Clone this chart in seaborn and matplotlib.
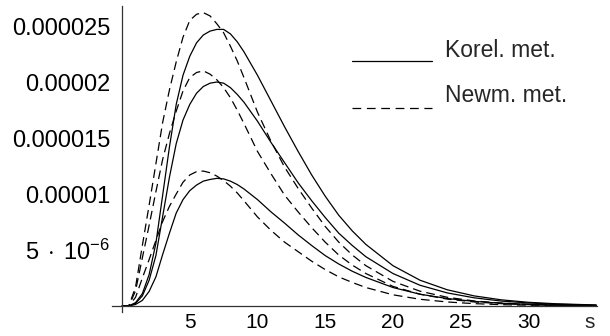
import matplotlib
matplotlib.use("Agg")
import matplotlib.pyplot as plt
import numpy as np
import pandas as pd
import seaborn as sns
from matplotlib.lines import Line2D
from matplotlib.ticker import FixedLocator, FixedFormatter

# ---- data (values in units of 1e-6) ----
s = [0, 0.5, 1, 1.5, 2, 2.5, 3, 3.5, 4, 4.5, 5, 5.5, 6, 6.5, 7, 7.5, 8, 8.5, 9,
     10, 11, 12, 13, 14, 15, 16, 17, 18, 20, 22, 24, 26, 28, 30, 32, 35]

korel_1 = [0, 0, 0.3, 1.1, 2.8, 5.6, 9.9, 14.2, 18.0, 20.6, 22.3, 23.5, 24.2, 24.55, 24.7, 24.7, 24.3, 23.6, 22.7,
           20.6, 18.3, 16.0, 13.8, 11.7, 9.8, 8.1, 6.7, 5.5, 3.6, 2.3, 1.45, 0.9, 0.55, 0.33, 0.2, 0.09]
korel_2 = [0, 0, 0.24, 0.9, 2.3, 4.5, 8.0, 11.5, 14.5, 16.6, 18.0, 19.0, 19.6, 19.9, 20.0, 19.9, 19.5, 18.9, 18.2,
           16.5, 14.6, 12.8, 11.0, 9.4, 7.9, 6.5, 5.4, 4.4, 2.9, 1.85, 1.17, 0.73, 0.44, 0.27, 0.16, 0.07]
korel_3 = [0, 0, 0.14, 0.5, 1.3, 2.6, 4.6, 6.5, 8.3, 9.5, 10.3, 10.8, 11.15, 11.3, 11.4, 11.35, 11.15, 10.85, 10.45,
           9.5, 8.4, 7.4, 6.35, 5.4, 4.5, 3.75, 3.1, 2.55, 1.65, 1.05, 0.67, 0.41, 0.25, 0.15, 0.09, 0.04]
newm_1 = [0, 0, 1.7, 5.4, 9.0, 12.7, 16.4, 19.3, 21.8, 24.0, 25.5, 26.05, 26.2, 25.9, 25.2, 24.4, 23.2, 21.9, 20.4,
          17.3, 14.7, 12.4, 10.5, 8.75, 7.1, 5.7, 4.55, 3.6, 2.2, 1.32, 0.78, 0.45, 0.26, 0.15, 0.085, 0.035]
newm_2 = [0, 0, 1.36, 4.3, 7.2, 10.2, 13.1, 15.4, 17.4, 19.2, 20.4, 20.85, 21.0, 20.7, 20.2, 19.5, 18.6, 17.5, 16.3,
          13.8, 11.8, 9.9, 8.4, 7.0, 5.7, 4.55, 3.65, 2.9, 1.75, 1.05, 0.62, 0.36, 0.21, 0.12, 0.07, 0.03]
newm_3 = [0, 0, 0.78, 2.5, 4.15, 5.85, 7.55, 8.9, 10.0, 11.05, 11.7, 12.0, 12.05, 11.9, 11.6, 11.2, 10.7, 10.1, 9.4,
          7.95, 6.75, 5.7, 4.85, 4.0, 3.25, 2.6, 2.1, 1.65, 1.0, 0.6, 0.36, 0.21, 0.12, 0.07, 0.04, 0.016]

methods = ["Korel. met.", "Newm. met."]
x_ticks = [5, 10, 15, 20, 25, 30]
x_tick_labels = ["5", "10", "15", "20", "25", "30"]
y_ticks = [5e-6, 1e-5, 1.5e-5, 2e-5, 2.5e-5]
y_tick_labels = [r"$5\;\cdot\;10^{-6}$", "0.00001", "0.000015", "0.00002", "0.000025"]

series = {
    ("k1", methods[0]): korel_1, ("k2", methods[0]): korel_2, ("k3", methods[0]): korel_3,
    ("n1", methods[1]): newm_1, ("n2", methods[1]): newm_2, ("n3", methods[1]): newm_3,
}
rows = []
for (cid, meth), vals in series.items():
    for xv, yv in zip(s, vals):
        rows.append({"s": xv, "value": yv * 1e-6, "curve": cid, "method": meth})
df = pd.DataFrame(rows)

# ---- style ----
sns.set_theme(style="white")
plt.rcParams["font.family"] = ["Liberation Sans", "DejaVu Sans"]
plt.rcParams["mathtext.fontset"] = "custom"
plt.rcParams["mathtext.rm"] = "Liberation Sans"
plt.rcParams["mathtext.it"] = "Liberation Sans:italic"
plt.rcParams["mathtext.bf"] = "Liberation Sans:bold"

FSY = 17
FSX = 15
FSL = 16.5
W, H = 610, 336
fig = plt.figure(figsize=(W / 100, H / 100), dpi=100)
ax = fig.add_axes([112 / W, (H - 312) / H, 485 / W, 306 / H])

dash = (7, 4)
sns.lineplot(data=df, x="s", y="value", units="curve", estimator=None,
             style="method", dashes={methods[0]: "", methods[1]: dash},
             color="black", linewidth=0.9, legend=False, ax=ax, sort=False)

ax.set_xlim(-0.74, 35.06)
ax.set_ylim(-0.536e-6, 26.79e-6)
for side in ["top", "right"]:
    ax.spines[side].set_visible(False)
ax.spines["left"].set_position(("data", 0))
ax.spines["bottom"].set_position(("data", 0))
for side in ["left", "bottom"]:
    ax.spines[side].set_color("#333333")
    ax.spines[side].set_linewidth(0.9)

ax.xaxis.set_major_locator(FixedLocator(x_ticks))
ax.xaxis.set_major_formatter(FixedFormatter(x_tick_labels))
ax.xaxis.set_minor_locator(FixedLocator([v for v in range(1, 35) if v % 5]))
ax.yaxis.set_major_locator(FixedLocator(y_ticks))
ax.yaxis.set_major_formatter(FixedFormatter(y_tick_labels))
ax.yaxis.set_minor_locator(FixedLocator([i * 1e-6 for i in range(1, 27) if i % 5]))
ax.tick_params(which="both", direction="in", color="#333333", width=0.7, labelcolor="black")
ax.tick_params(which="major", length=3.5)
ax.tick_params(which="minor", length=2)
ax.tick_params(axis="x", labelsize=FSX, pad=5)
ax.tick_params(axis="y", labelsize=FSY, pad=8.5)
ax.set_xlabel("")
ax.set_ylabel("")
ax.annotate("s", xy=(34.5, 0), xytext=(0, -5), textcoords="offset points",
            ha="center", va="top", fontsize=FSX, annotation_clip=False)

# legend
ax.add_line(Line2D([0.495, 0.66], [0.821, 0.821], transform=ax.transAxes, color="black", lw=0.9))
ax.add_line(Line2D([0.495, 0.66], [0.667, 0.667], transform=ax.transAxes, color="black", lw=0.9,
                   dashes=(7, 4.5)))
ax.text(0.687, 0.834, "Korel. met.", transform=ax.transAxes, fontsize=FSL, va="baseline", ha="left")
ax.text(0.687, 0.687, "Newm. met.", transform=ax.transAxes, fontsize=FSL, va="baseline", ha="left")

fig.savefig("out.png", dpi=100)
